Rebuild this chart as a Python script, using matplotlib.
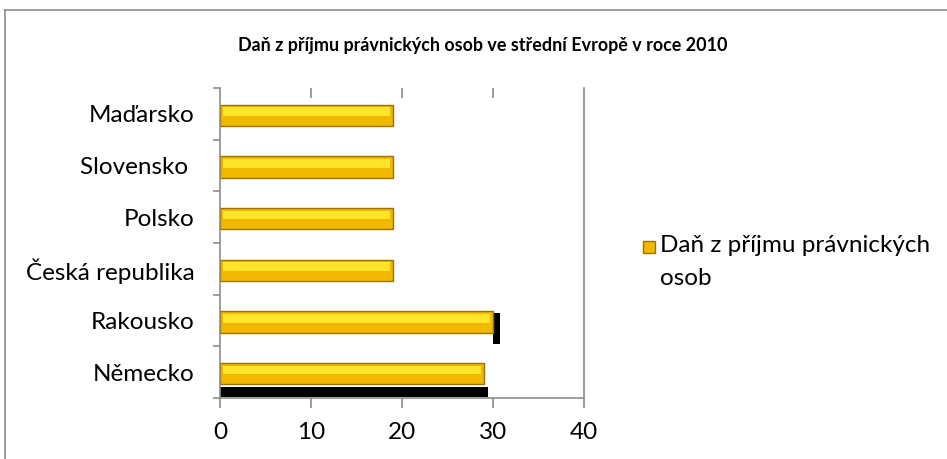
import matplotlib
matplotlib.use('Agg')
import matplotlib.pyplot as plt
from matplotlib.patches import Rectangle
from matplotlib.lines import Line2D

plt.rcParams['font.family'] = ['Lato', 'DejaVu Sans']

# data
countries = ['Německo', 'Rakousko', 'Česká republika', 'Polsko', 'Slovensko ', 'Maďarsko']
tax_rate = [29.0, 30.0, 19.0, 19.0, 19.0, 19.0]
title = 'Daň z příjmu právnických osob ve střední Evropě v roce 2010'
series_name = 'Daň z příjmu právnických\nosob'
xticks = [0, 10, 20, 30, 40]

gold = '#F2B800'
gold_light = '#FFE52A'
gold_edge = '#9A7400'
grey = '#8C8C8C'
fs = 17.5

fig = plt.figure(figsize=(9.47, 4.59), dpi=100)
ax = fig.add_axes([220 / 947, 1 - 398 / 459, 364 / 947, 310 / 459])

pos = [i - 0.03 for i in range(len(countries))]

# black "shadow" artefacts of the 3D rendering
ax.barh([pos[0] - 0.36], [tax_rate[0] + 0.5], height=0.19, color='black', zorder=1)
ax.barh([pos[1] - 0.12], [0.8], left=[tax_rate[1]], height=0.6, color='black', zorder=1)

# bevelled gold bars
ax.barh(pos, tax_rate, height=0.41, color=gold, edgecolor=gold_edge, linewidth=1.0, zorder=2)
ax.barh([p + 0.07 for p in pos], [v - 0.6 for v in tax_rate], left=0.3, height=0.17,
        color=gold_light, linewidth=0, zorder=3)

ax.set_xlim(0, 40)
ax.set_ylim(-0.5, len(countries) - 0.5)
ax.set_xticks(xticks)
ax.set_xticklabels([str(t) for t in xticks], fontsize=fs)
ax.set_yticks(range(len(countries)))
ax.set_yticklabels(countries, fontsize=fs)
ax.set_yticks([i - 0.5 for i in range(len(countries) + 1)], minor=True)
ax.tick_params(axis='y', which='major', length=0, pad=18.5)
ax.tick_params(axis='y', which='minor', length=5, color=grey, width=1.2)
ax.tick_params(axis='x', length=7, color=grey, width=1.2, pad=10)

for s in ['left', 'bottom', 'right']:
    ax.spines[s].set_color(grey)
    ax.spines[s].set_linewidth(1.2)
ax.spines['top'].set_visible(False)

top = ax.secondary_xaxis('top')
top.set_xticks(xticks[1:4])
top.set_xticklabels([])
top.tick_params(direction='in', length=7, color=grey, width=1.2)
top.spines['top'].set_visible(False)

fig.text(483 / 947, 1 - 46 / 459, title, ha='center', va='center', fontsize=12.9, fontweight='bold')

# legend
fig.patches.append(Rectangle((643 / 947, 1 - 253 / 459), 12 / 947, 12 / 459,
                             transform=fig.transFigure, facecolor=gold, edgecolor=gold_edge, lw=1.0))
fig.text(660 / 947, 1 - 235 / 459, series_name, ha='left', va='top', fontsize=fs, linespacing=1.7)

# outer chart border
fig.add_artist(Line2D([5 / 947, 5 / 947], [0, 1 - 10 / 459], color=grey, lw=1.2))
fig.add_artist(Line2D([5 / 947, 1], [1 - 10 / 459, 1 - 10 / 459], color=grey, lw=1.2))

fig.savefig('out.png', dpi=100)
